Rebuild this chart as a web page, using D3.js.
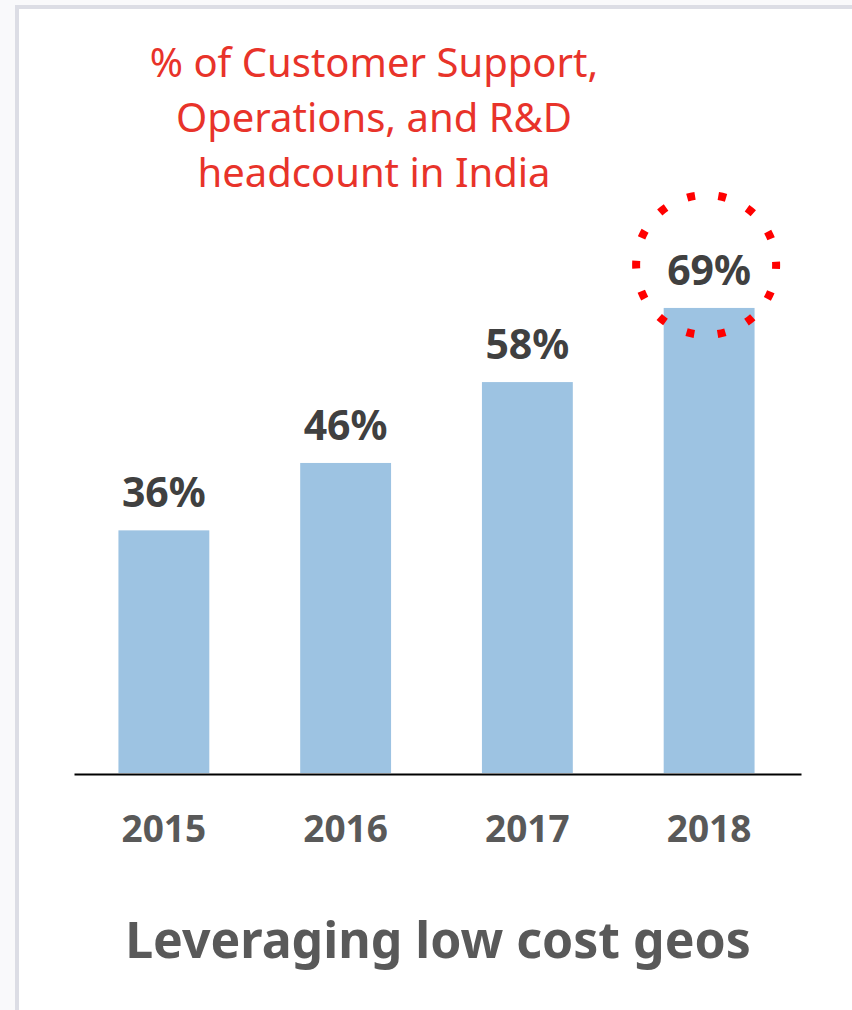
<!DOCTYPE html>
<html>
<head>
<meta charset="utf-8">
<script src="https://cdn.jsdelivr.net/npm/d3@7"></script>
<style>
  html, body { margin: 0; padding: 0; background: #f9f9fb; }
  svg { display: block; font-family: "Noto Sans", "Open Sans", sans-serif; }
</style>
</head>
<body>
<svg id="chart"></svg>
<script>
const years = ["2015", "2016", "2017", "2018"];
const shares = [36, 46, 58, 69];
const noteLines = ["% of Customer Support,", "Operations, and R&D", "headcount in India"];
const caption = "Leveraging low cost geos";
const highlightYear = "2018";

const width = 852;
const height = 1010;
const margin = { top: 99, right: 51, bottom: 236, left: 74 }; // plot area = axis line span

const svg = d3.select("#chart").attr("width", width).attr("height", height);

// card background with the light grey edge at top/left
svg
  .append("rect")
  .attr("x", 17)
  .attr("y", 7)
  .attr("width", width)
  .attr("height", height)
  .attr("fill", "#fff")
  .attr("stroke", "#dcdde5")
  .attr("stroke-width", 4);

const xScale = d3
  .scaleBand()
  .domain(years)
  .range([margin.left, width - margin.right])
  .paddingInner(0.5)
  .paddingOuter(0.25);

const yScale = d3
  .scaleLinear()
  .domain([0, 100])
  .range([height - margin.bottom - 1, margin.top]);

const data = years.map((y, i) => ({ year: y, value: shares[i] }));

// bars
svg
  .append("g")
  .selectAll("rect")
  .data(data)
  .join("rect")
  .attr("x", (d) => xScale(d.year) - 1)
  .attr("y", (d) => yScale(d.value))
  .attr("width", xScale.bandwidth())
  .attr("height", (d) => yScale(0) - yScale(d.value))
  .attr("fill", "#9dc3e2");

// value labels
svg
  .append("g")
  .selectAll("text")
  .data(data)
  .join("text")
  .attr("x", (d) => xScale(d.year) + xScale.bandwidth() / 2 - 1)
  .attr("y", (d) => yScale(d.value) - 23)
  .attr("text-anchor", "middle")
  .attr("fill", "#404040")
  .style("font-size", "41px")
  .style("font-weight", "bold")
  .text((d) => d.value + "%");

// x axis
const xAxis = svg
  .append("g")
  .attr("transform", `translate(0, ${height - margin.bottom})`)
  .call(d3.axisBottom(xScale).tickSize(0).tickPadding(0));

xAxis.select(".domain").attr("stroke", "#000").attr("stroke-width", 2);
xAxis
  .selectAll(".tick text")
  .attr("dy", null)
  .attr("y", 68)
  .attr("x", -1)
  .attr("fill", "#595959")
  .style("font-family", "'Noto Sans', 'Open Sans', sans-serif")
  .style("font-size", "37px")
  .style("font-weight", "bold");

// dotted ring around the last value
const hl = data.find((d) => d.year === highlightYear);
const ringR = 70;
svg
  .append("circle")
  .attr("cx", xScale(hl.year) + xScale.bandwidth() / 2 - 4)
  .attr("cy", yScale(hl.value) - 43)
  .attr("r", ringR)
  .attr("fill", "none")
  .attr("stroke", "#ff0000")
  .attr("stroke-width", 8)
  .attr("stroke-dasharray", `8 ${(2 * Math.PI * ringR) / 14 - 8}`)
  .attr("stroke-dashoffset", 4);

// red note at top
svg
  .append("g")
  .selectAll("text")
  .data(noteLines)
  .join("text")
  .attr("x", 374)
  .attr("y", (d, i) => 77 + i * 55)
  .attr("text-anchor", "middle")
  .attr("fill", "#e8332a")
  .style("font-size", "40px")
  .text((d) => d);

// caption
svg
  .append("text")
  .attr("x", 438)
  .attr("y", 958)
  .attr("text-anchor", "middle")
  .attr("fill", "#595959")
  .style("font-size", "50px")
  .style("font-weight", "bold")
  .text(caption);
</script>
</body>
</html>
